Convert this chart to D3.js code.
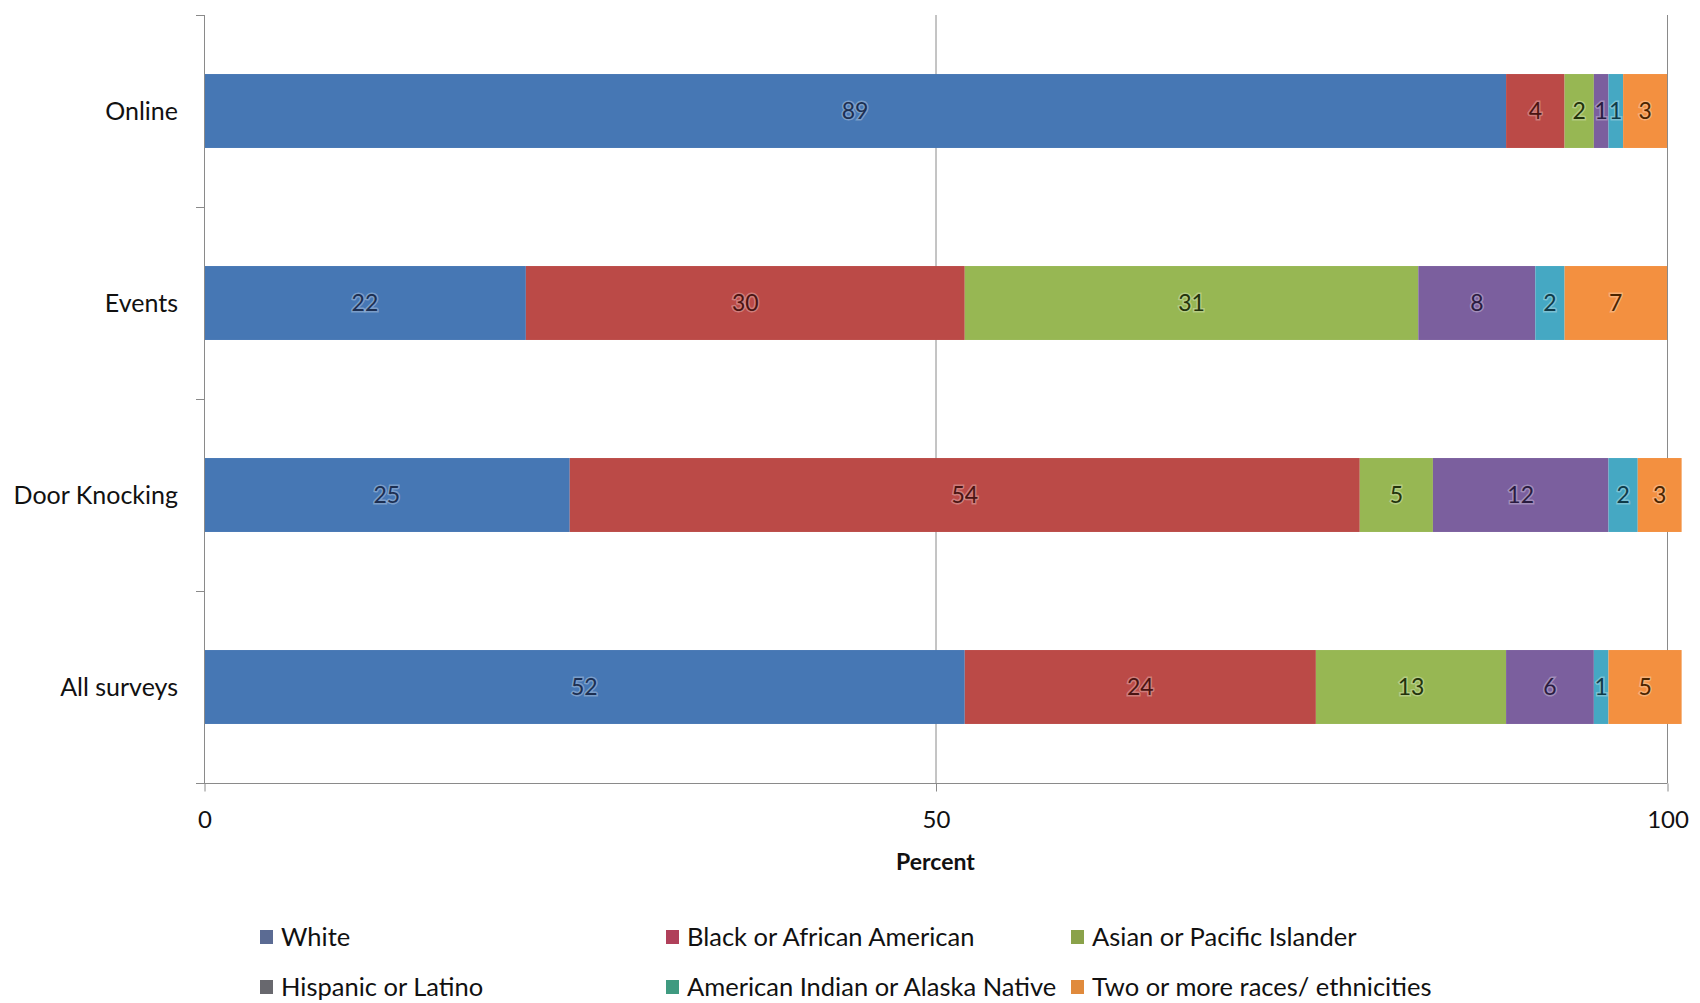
<!DOCTYPE html>
<html>

<head>
  <meta charset="utf-8">
  <title>Survey respondents by race / ethnicity</title>
  <style type="text/css">
    body {
      margin: 0;
      background: #fff;
    }

    svg {
      display: block;
      font-family: Lato, "Open Sans", sans-serif;
    }

    .axis path,
    .axis line {
      stroke: #8a8a8a;
    }
  </style>
  <script type="text/javascript" src="https://cdn.jsdelivr.net/npm/d3@7/dist/d3.min.js"></script>
</head>

<body>
  <script>
    // categories, top to bottom
    var categories = ['Online', 'Events', 'Door Knocking', 'All surveys'];

    // series names (legend order)
    var seriesNames = ['White', 'Black or African American', 'Asian or Pacific Islander',
      'Hispanic or Latino', 'American Indian or Alaska Native', 'Two or more races/ ethnicities'];

    // percent per series, one value per category
    var white = [89, 22, 25, 52];
    var black = [4, 30, 54, 24];
    var asian = [2, 31, 5, 13];
    var hispanic = [1, 8, 12, 6];
    var amIndian = [1, 2, 2, 1];
    var twoOrMore = [3, 7, 3, 5];

    var xTicks = [0, 50, 100];

    var barColors = ['#4677b4', '#bb4a47', '#97b753', '#7b5f9e', '#45a8c3', '#f39040'];
    var labelColors = ['#1c2f52', '#4a1412', '#23330c', '#2a1c40', '#0f3b49', '#4a2500'];
    var swatchColors = ['#5b6b93', '#b0405a', '#8aa24a', '#68686e', '#3f9a80', '#e08a3c'];

    var seriesValues = [white, black, asian, hispanic, amIndian, twoOrMore];

    // build the table d3.stack wants
    var table = categories.map((c, i) => {
      var row = { category: c };
      seriesNames.forEach((s, j) => row[s] = seriesValues[j][i]);
      return row;
    });

    var stacked = d3.stack().keys(seriesNames)(table);

    var width = 1700, height = 1003;
    var svg = d3.select('body').append('svg')
      .attr('width', width)
      .attr('height', height);

    var x = d3.scaleLinear()
      .domain([0, 100])
      .range([204, 1667]);

    var y = d3.scaleBand()
      .domain(categories)
      .range([15, 783])
      .paddingInner(0.615)
      .paddingOuter(0.3075);

    // vertical gridlines
    svg.append('g')
      .selectAll('line')
      .data(xTicks.slice(1))
      .enter()
      .append('line')
      .attr('x1', d => x(d) + 0.5)
      .attr('x2', d => x(d) + 0.5)
      .attr('y1', 15)
      .attr('y2', 783)
      .attr('stroke', '#8a8a8a')
      .attr('stroke-width', 1);

    // bars
    var layers = svg.append('g')
      .selectAll('g')
      .data(stacked)
      .enter()
      .append('g')
      .attr('fill', (d, i) => barColors[i]);

    layers.selectAll('rect')
      .data(d => d)
      .enter()
      .append('rect')
      .attr('x', d => x(d[0]))
      .attr('y', d => y(d.data.category))
      .attr('width', d => x(d[1]) - x(d[0]))
      .attr('height', y.bandwidth());

    // value labels
    layers.each(function (layer, i) {
      d3.select(this).selectAll('text')
        .data(layer)
        .enter()
        .append('text')
        .attr('x', d => (x(d[0]) + x(d[1])) / 2)
        .attr('y', d => y(d.data.category) + y.bandwidth() / 2)
        .attr('dy', '0.35em')
        .attr('text-anchor', 'middle')
        .attr('font-size', 23)
        .attr('fill', labelColors[i])
        .attr('stroke', 'rgba(255,255,255,0.3)')
        .attr('stroke-width', 3)
        .attr('paint-order', 'stroke')
        .text(d => d[1] - d[0]);
    });

    // left axis: line with ticks on category boundaries
    var gap = (y.step() - y.bandwidth()) / 2;
    var bounds = categories.map(c => y(c) - gap).concat([783]);
    var yAxis = svg.append('g').attr('class', 'axis');
    yAxis.append('line')
      .attr('x1', 204.5).attr('x2', 204.5)
      .attr('y1', 15).attr('y2', 783);
    yAxis.selectAll('.tk')
      .data(bounds)
      .enter()
      .append('line')
      .attr('class', 'tk')
      .attr('x1', 196).attr('x2', 204)
      .attr('y1', d => Math.round(d) + 0.5)
      .attr('y2', d => Math.round(d) + 0.5);

    // category labels
    svg.append('g')
      .selectAll('text')
      .data(categories)
      .enter()
      .append('text')
      .attr('x', 178)
      .attr('y', d => y(d) + y.bandwidth() / 2)
      .attr('dy', '0.35em')
      .attr('text-anchor', 'end')
      .attr('font-size', 25)
      .attr('fill', '#111')
      .text(d => d);

    // bottom axis
    var xAxis = svg.append('g')
      .attr('class', 'axis')
      .attr('transform', 'translate(0.5, 783.5)')
      .call(d3.axisBottom(x).tickValues(xTicks).tickSize(8).tickPadding(19).tickSizeOuter(0));
    xAxis.select('.domain').attr('d', 'M196,0H' + x(100));
    xAxis.selectAll('text')
      .attr('font-size', 24)
      .attr('font-family', 'Lato, "Open Sans", sans-serif')
      .attr('fill', '#111');

    svg.append('text')
      .attr('x', x(50))
      .attr('y', 870)
      .attr('text-anchor', 'middle')
      .attr('font-size', 23)
      .attr('font-weight', 'bold')
      .attr('fill', '#111')
      .text('Percent');

    // legend
    var legendX = [260, 666, 1071];
    var legendY = [937, 987];
    var legend = svg.append('g')
      .selectAll('g')
      .data(seriesNames)
      .enter()
      .append('g')
      .attr('transform', (d, i) => `translate(${legendX[i % 3]}, ${legendY[Math.floor(i / 3)]})`);

    legend.append('rect')
      .attr('x', 0)
      .attr('y', -7)
      .attr('width', 13)
      .attr('height', 14)
      .attr('fill', (d, i) => swatchColors[i]);

    legend.append('text')
      .attr('x', 21)
      .attr('dy', '0.35em')
      .attr('font-size', 25.5)
      .attr('fill', '#111')
      .text(d => d);
  </script>
</body>

</html>
